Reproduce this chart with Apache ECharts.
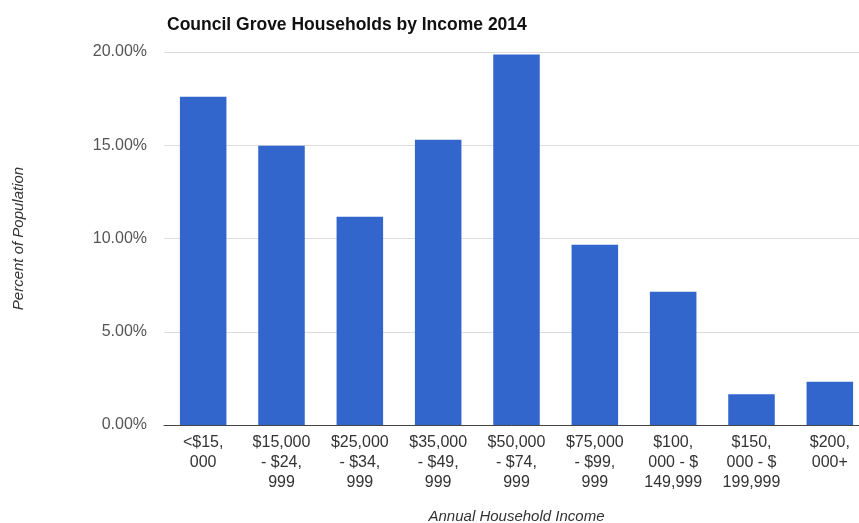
<!DOCTYPE html>
<html>
<head>
<meta charset="utf-8">
<script src="https://cdn.jsdelivr.net/npm/echarts@6/dist/echarts.min.js"></script>
<style>
  html, body { margin: 0; padding: 0; background: #fff; }
  #chart { width: 859px; height: 523px; }
</style>
</head>
<body>
<div id="chart"></div>
<script>
// Income brackets (wrapped as they appear under each bar)
const categories = [
  '<$15,\n000',
  '$15,000\n- $24,\n999',
  '$25,000\n- $34,\n999',
  '$35,000\n- $49,\n999',
  '$50,000\n- $74,\n999',
  '$75,000\n- $99,\n999',
  '$100,\n000 - $\n149,999',
  '$150,\n000 - $\n199,999',
  '$200,\n000+'
];

// Share of households in each bracket, percent
const householdShare = [17.6, 14.97, 11.17, 15.29, 19.87, 9.66, 7.15, 1.65, 2.32];

// Value axis ticks
const yTicks = [0, 5, 10, 15, 20];

const FONT = '"Liberation Sans", Arial, sans-serif';

const chart = echarts.init(document.getElementById('chart'));
chart.setOption({
  animation: false,
  backgroundColor: '#ffffff',
  title: {
    text: 'Council Grove Households by Income 2014',
    left: 162,
    top: 11,
    textStyle: { fontFamily: FONT, fontSize: 17.5, fontWeight: 'bold', color: '#111' }
  },
  grid: {
    left: 164, top: 52, width: 705, height: 373,
    containLabel: false,
    outerBoundsMode: 'none'
  },
  xAxis: {
    type: 'category',
    data: categories,
    name: 'Annual Household Income',
    nameLocation: 'middle',
    nameGap: 84,
    nameTextStyle: { fontFamily: FONT, fontSize: 15, fontStyle: 'italic', color: '#333' },
    axisLine: { lineStyle: { color: '#444', width: 1 } },
    axisTick: { show: false },
    axisLabel: {
      interval: 0,
      margin: 8,
      fontFamily: FONT,
      fontSize: 16,
      lineHeight: 20,
      color: '#333',
      align: 'center',
      verticalAlign: 'top'
    }
  },
  yAxis: {
    type: 'value',
    min: yTicks[0],
    max: yTicks[yTicks.length - 1],
    interval: yTicks[1] - yTicks[0],
    name: 'Percent of Population',
    nameLocation: 'middle',
    nameGap: 138,
    nameTextStyle: { fontFamily: FONT, fontSize: 15, fontStyle: 'italic', color: '#333' },
    axisLine: { show: false },
    axisTick: { show: false },
    axisLabel: {
      margin: 17,
      fontFamily: FONT,
      fontSize: 16,
      color: '#555',
      formatter: v => v.toFixed(2) + '%'
    },
    splitLine: { lineStyle: { color: '#dcdcdc', width: 1 } }
  },
  series: [{
    type: 'bar',
    data: householdShare,
    barCategoryGap: '40.6%',
    itemStyle: { color: '#3366cc' }
  }]
});
</script>
</body>
</html>
